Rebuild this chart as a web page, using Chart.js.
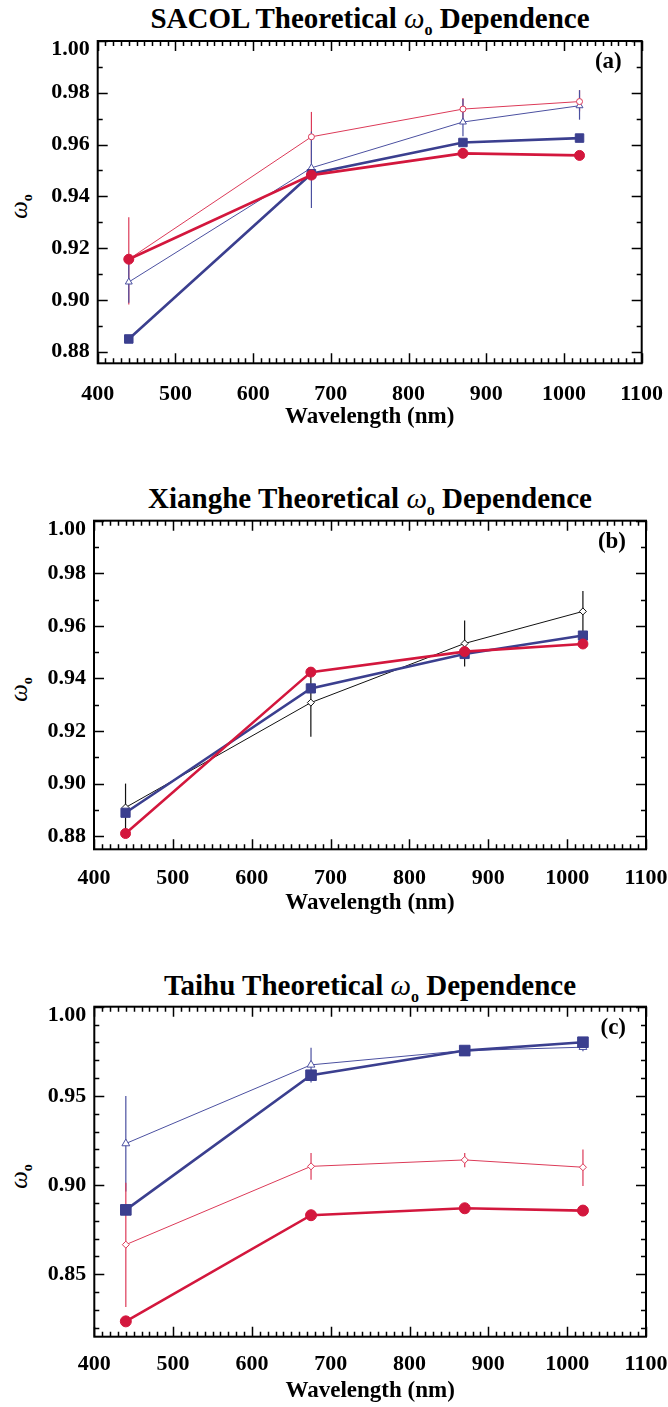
<!DOCTYPE html>
<html>
<head>
<meta charset="utf-8">
<script src="https://cdn.jsdelivr.net/npm/chart.js@4.4.1/dist/chart.umd.min.js"></script>
<style>
  body { margin: 0; background: #fff; overflow: hidden; }
  #page { position: relative; width: 668px; height: 1407px; overflow: hidden; font-family: "Liberation Serif", "Times New Roman", serif; }
  .box { position: absolute; left: 0; width: 668px; }
  .title { position: absolute; left: 70px; width: 600px; text-align: center; font-size: 29px; font-weight: bold; line-height: 32px; color: #000; white-space: nowrap; }
  .title i, .ylab i { font-weight: normal; }
  .title sub { font-size: 16px; vertical-align: -7px; }
  .ylab { position: absolute; left: 3px; width: 40px; text-align: center; font-size: 25px; line-height: 28px; transform: rotate(-90deg); color: #000; }
  .ylab sub { font-size: 14px; font-weight: bold; vertical-align: -5px; }
</style>
</head>
<body>
<div id="page">
  <div class="title" style="top: 2px;">SACOL Theoretical <i>ω</i><sub>o</sub> Dependence</div>
  <div class="title" style="top: 482px;">Xianghe Theoretical <i>ω</i><sub>o</sub> Dependence</div>
  <div class="title" style="top: 969px;">Taihu Theoretical <i>ω</i><sub>o</sub> Dependence</div>

  <div class="ylab" style="top: 188px;"><i>ω</i><sub>o</sub></div>
  <div class="ylab" style="top: 671px;"><i>ω</i><sub>o</sub></div>
  <div class="ylab" style="top: 1158px;"><i>ω</i><sub>o</sub></div>

  <div class="box" style="top: 0px; height: 437px;"><canvas id="chartA"></canvas></div>
  <div class="box" style="top: 470px; height: 453px;"><canvas id="chartB"></canvas></div>
  <div class="box" style="top: 960px; height: 447px;"><canvas id="chartC"></canvas></div>
</div>

<script>
// wavelengths shared by every panel (nm)
const wavelengths = [440, 675, 870, 1020];
const xTicks = [400, 500, 600, 700, 800, 900, 1000, 1100];

// (a) SACOL
const sacolYTicks = [0.88, 0.90, 0.92, 0.94, 0.96, 0.98, 1.00];
const sacolCircle = [0.9157, 0.9482, 0.9566, 0.9558];
const sacolSquare = [0.8849, 0.9487, 0.9608, 0.9625];
const sacolDiamond = [0.9157, 0.9630, 0.9737, 0.9766];
const sacolDiamondLo = [0.8982, 0.9530, 0.9688, 0.9728];
const sacolDiamondHi = [0.9319, 0.9726, 0.9780, 0.9810];
const sacolTriangle = [0.9069, 0.9510, 0.9687, 0.9750];
const sacolTriangleLo = [0.8989, 0.9355, 0.9632, 0.9696];
const sacolTriangleHi = [0.9160, 0.9650, 0.9776, 0.9810];

// (b) Xianghe
const xiangheYTicks = [0.88, 0.90, 0.92, 0.94, 0.96, 0.98, 1.00];
const xiangheCircle = [0.8810, 0.9424, 0.9502, 0.9531];
const xiangheSquare = [0.8889, 0.9362, 0.9493, 0.9563];
const xiangheDiamond = [0.8909, 0.9308, 0.9533, 0.9655];
const xiangheDiamondLo = [0.8816, 0.9178, 0.9445, 0.9540];
const xiangheDiamondHi = [0.9000, 0.9435, 0.9620, 0.9733];

// (c) Taihu
const taihuYTicks = [0.85, 0.90, 0.95, 1.00];
const taihuCircle = [0.8236, 0.8831, 0.8870, 0.8857];
const taihuSquare = [0.8861, 0.9616, 0.9754, 0.9801];
const taihuTriangle = [0.9233, 0.9674, 0.9754, 0.9773];
const taihuTriangleLo = [0.8964, 0.9575, 0.9730, 0.9750];
const taihuTriangleHi = [0.9500, 0.9770, 0.9780, 0.9790];
const taihuDiamond = [0.8666, 0.9105, 0.9141, 0.9100];
const taihuDiamondLo = [0.8316, 0.9030, 0.9100, 0.8995];
const taihuDiamondHi = [0.9013, 0.9180, 0.9180, 0.9200];

const RED = '#d3173d';
const RED_THIN = '#dc3a58';
const BLUE = '#3b3f8f';
const BLUE_THIN = '#4b50a0';
const BLACK = '#111111';
const FONT = 'Liberation Serif';

function pts(values) {
  return wavelengths.map((w, i) => ({ x: w, y: values[i] }));
}

function series(values, opts) {
  return Object.assign({
    data: pts(values),
    showLine: true,
    tension: 0,
    pointBorderWidth: 1,
  }, opts);
}

function thick(values, color, style, radius) {
  return series(values, {
    borderColor: color, backgroundColor: color,
    borderWidth: 2.6, pointStyle: style, pointRadius: radius,
    pointBackgroundColor: color, pointBorderColor: color
  });
}

function thin(values, lo, hi, color, style, radius) {
  return series(values, {
    borderColor: color, backgroundColor: '#fff',
    borderWidth: 1, pointStyle: style, pointRadius: radius,
    pointBackgroundColor: '#fff', pointBorderColor: color,
    errLo: lo, errHi: hi
  });
}

// frame + inward ticks + error bars + panel letter
const framePlugin = {
  id: 'frame',
  beforeDatasetsDraw(chart) {
    const ctx = chart.ctx;
    const ys = chart.scales.y, xs = chart.scales.x;
    ctx.save();
    chart.data.datasets.forEach(ds => {
      if (!ds.errLo) return;
      ctx.strokeStyle = ds.borderColor;
      ctx.lineWidth = 1.2;
      wavelengths.forEach((w, i) => {
        const px = xs.getPixelForValue(w);
        ctx.beginPath();
        ctx.moveTo(px, ys.getPixelForValue(ds.errLo[i]));
        ctx.lineTo(px, ys.getPixelForValue(ds.errHi[i]));
        ctx.stroke();
      });
    });
    ctx.restore();
  },
  afterDraw(chart, args, opts) {
    const ctx = chart.ctx;
    const a = chart.chartArea;
    const xs = chart.scales.x, ys = chart.scales.y;
    ctx.save();
    ctx.strokeStyle = '#000';
    ctx.lineWidth = 1.5;
    // x ticks, every 10 nm, major every 100
    for (let v = xs.min; v <= xs.max + 1e-6; v += 10) {
      const px = Math.round(xs.getPixelForValue(v)) + 0.5;
      const len = (Math.round(v) % 100 === 0) ? 10 : 5;
      ctx.beginPath();
      ctx.moveTo(px, a.bottom); ctx.lineTo(px, a.bottom - len);
      ctx.moveTo(px, a.top); ctx.lineTo(px, a.top + len);
      ctx.stroke();
    }
    // y ticks, every 0.01
    const startY = Math.ceil(ys.min * 100 - 1e-6);
    const majorY = Math.round(opts.majorY * 100);
    for (let k = startY; k <= Math.round(ys.max * 100); k++) {
      const py = Math.round(ys.getPixelForValue(k / 100)) + 0.5;
      const len = (k % majorY === 0) ? 10 : 5;
      ctx.beginPath();
      ctx.moveTo(a.left, py); ctx.lineTo(a.left + len, py);
      ctx.moveTo(a.right, py); ctx.lineTo(a.right - len, py);
      ctx.stroke();
    }
    ctx.lineWidth = 2;
    ctx.strokeRect(a.left, a.top, a.right - a.left, a.bottom - a.top);
    // panel letter
    ctx.fillStyle = '#000';
    ctx.font = 'bold 23px "' + FONT + '"';
    ctx.textAlign = 'right';
    ctx.textBaseline = 'middle';
    ctx.fillText(opts.letter, a.right - 20, a.top + 21);
    ctx.restore();
  }
};

function makeChart(id, datasets, yTicks, yMin, majorY, letter, pad) {
  return new Chart(document.getElementById(id), {
    type: 'scatter',
    data: { datasets: datasets },
    plugins: [framePlugin],
    options: {
      responsive: true,
      maintainAspectRatio: false,
      animation: false,
      layout: { padding: { top: pad.top, bottom: pad.bottom, left: 0, right: pad.right } },
      plugins: {
        legend: { display: false },
        tooltip: { enabled: false },
        frame: { letter: letter, majorY: majorY }
      },
      scales: {
        x: {
          type: 'linear', min: 400, max: 1100,
          grid: { display: false, drawTicks: false },
          border: { display: false },
          afterBuildTicks: s => { s.ticks = xTicks.map(v => ({ value: v })); },
          afterFit: s => { s.height = 68; s.paddingLeft = 0; s.paddingRight = 0; },
          ticks: {
            padding: pad.tickPad, maxRotation: 0, autoSkip: false, color: '#000',
            font: { family: FONT, size: 22, weight: 'bold' },
            callback: v => String(v)
          },
          title: {
            display: true, text: 'Wavelength (nm)', color: '#000',
            font: { family: FONT, size: 23, weight: 'bold' },
            padding: { top: 0, bottom: 0 }
          }
        },
        y: {
          type: 'linear', min: yMin, max: 1.00,
          grid: { display: false, drawTicks: false },
          border: { display: false },
          afterBuildTicks: s => { s.ticks = yTicks.map(v => ({ value: v })); },
          afterFit: s => { s.width = pad.yWidth; s.paddingTop = 0; s.paddingBottom = 0; },
          ticks: {
            padding: 8, color: '#000',
            font: { family: FONT, size: 22, weight: 'bold', lineHeight: 0.75 },
            // the top label sits a little below its tick, as in the original
            callback: v => (v >= 0.9999 ? ['', v.toFixed(2)] : v.toFixed(2))
          }
        }
      }
    }
  });
}

makeChart('chartA', [
  thick(sacolCircle, RED, 'circle', 5),
  thick(sacolSquare, BLUE, 'rect', 6),
  thin(sacolDiamond, sacolDiamondLo, sacolDiamondHi, RED_THIN, 'circle', 3),
  thin(sacolTriangle, sacolTriangleLo, sacolTriangleHi, BLUE_THIN, 'triangle', 4)
], sacolYTicks, 0.8755, 0.02, '(a)', { top: 41, bottom: 5.7, right: 26.3, yWidth: 97.7, tickPad: 18 });

makeChart('chartB', [
  thick(xiangheCircle, RED, 'circle', 5),
  thick(xiangheSquare, BLUE, 'rect', 6.5),
  thin(xiangheDiamond, xiangheDiamondLo, xiangheDiamondHi, BLACK, 'rectRot', 3.5)
], xiangheYTicks, 0.875, 0.02, '(b)', { top: 50.7, bottom: 5.7, right: 22, yWidth: 94, tickPad: 16 });

makeChart('chartC', [
  thick(taihuCircle, RED, 'circle', 5.5),
  thick(taihuSquare, BLUE, 'rect', 7.5),
  thin(taihuTriangle, taihuTriangleLo, taihuTriangleHi, BLUE_THIN, 'triangle', 4.5),
  thin(taihuDiamond, taihuDiamondLo, taihuDiamondHi, RED_THIN, 'rectRot', 3.5)
], taihuYTicks, 0.815, 0.05, '(c)', { top: 46.7, bottom: 2.3, right: 22, yWidth: 94.3, tickPad: 14 });
</script>
</body>
</html>
